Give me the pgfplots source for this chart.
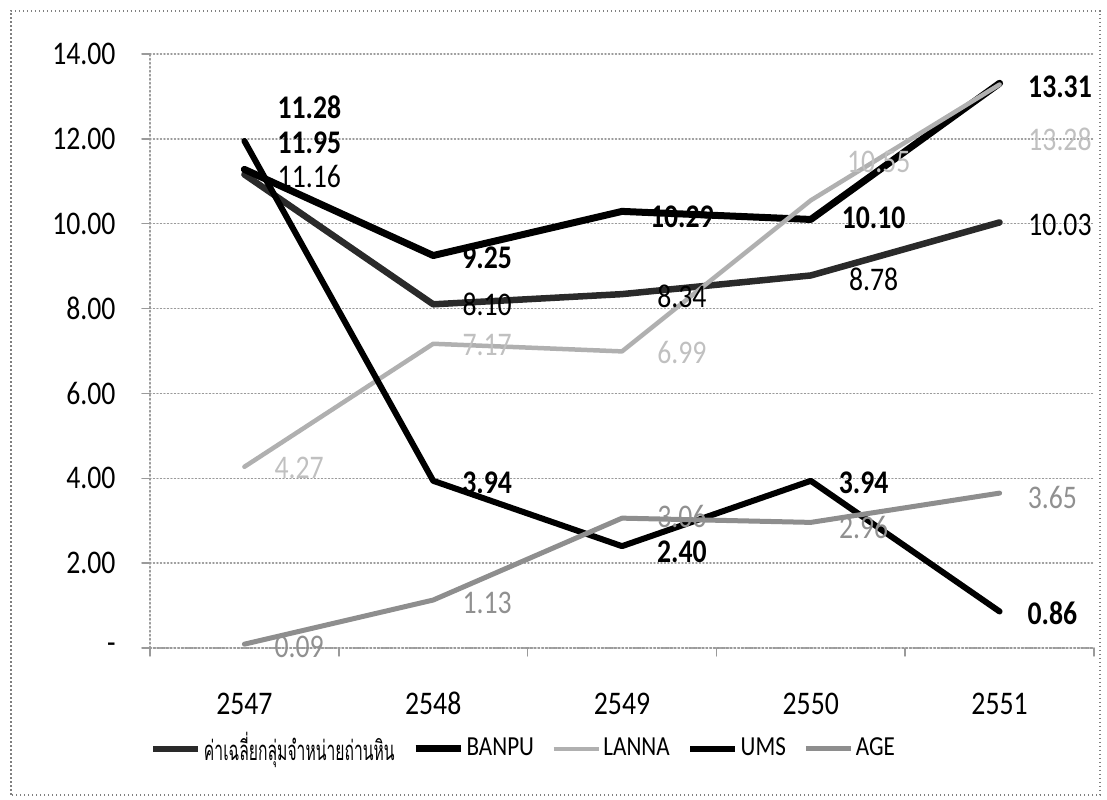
\documentclass[border=0pt]{standalone}
\usepackage{fontspec}
\setmainfont{Carlito}[FakeStretch=0.84]
\newfontfamily\thaifont[Script=Thai,FakeStretch=0.57]{Loma}
\usepackage{pgfplots}
\pgfplotsset{compat=1.18}
\definecolor{avgc}{HTML}{2A2A2A}
\definecolor{lannac}{HTML}{B0B0B0}
\definecolor{agec}{HTML}{8E8E8E}
\definecolor{lannat}{HTML}{C0C0C0}
\definecolor{aget}{HTML}{909090}
\definecolor{gridc}{HTML}{9A9A9A}

\pgfplotstableread{
x y
0 11.16
1 8.10
2 8.34
3 8.78
4 10.03
}\avgdata
\pgfplotstableread{
x y
0 11.28
1 9.25
2 10.29
3 10.10
4 13.31
}\banpudata
\pgfplotstableread{
x y
0 4.27
1 7.17
2 6.99
3 10.55
4 13.28
}\lannadata
\pgfplotstableread{
x y
0 11.95
1 3.94
2 2.40
3 3.94
4 0.86
}\umsdata
\pgfplotstableread{
x y
0 0.09
1 1.13
2 3.06
3 2.96
4 3.65
}\agedata

\begin{document}
\begin{tikzpicture}
\fontsize{13.2pt}{15pt}\selectfont
\begin{axis}[
  at={(60pt,60.8pt)}, anchor=south west,
  scale only axis, width=377.6pt, height=237.6pt,
  xmin=-0.5, xmax=4.5, ymin=0, ymax=14,
  clip=false,
  axis x line*=bottom, axis y line*=left,
  axis line style={gridc, densely dotted, line width=0.6pt},
  xtick={0,1,2,3,4},
  xticklabels={2547,2548,2549,2550,2551},
  major x tick style={draw=none},
  minor xtick={-0.5,0.5,1.5,2.5,3.5,4.5},
  minor tick length=3.2pt,
  minor x tick style={gridc, line width=0.6pt},
  ytick={0,2,...,14},
  yticklabels={-\hspace{12pt},2.00,4.00,6.00,8.00,10.00,12.00,14.00},
  major tick length=3.2pt,
  tick align=outside,
  y tick style={gridc, line width=0.6pt},
  ymajorgrids,
  grid style={gridc, densely dotted, line width=0.6pt},
  xticklabel style={anchor=north, yshift=-10pt, text height=9pt, text depth=0pt, font=\fontsize{13.2pt}{15pt}\selectfont},
  yticklabel style={anchor=east, xshift=-6pt, font=\fontsize{13.2pt}{15pt}\selectfont},
  legend columns=5,
  legend style={at={(0.0,-0.17)}, anchor=west, draw=none, fill=none,
    inner sep=0pt, outer sep=0pt,
    font=\fontsize{11pt}{13pt}\selectfont,
    nodes={inner sep=1pt},
    /tikz/every even column/.append style={column sep=6pt}},
  legend image code/.code={\draw[#1] (0pt,0pt) -- (18pt,0pt);},
  line join=round, line cap=round,
]
\addplot[avgc, line width=2.6pt] table {\avgdata};
\addlegendentry{\thaifont ค่าเฉลี่ยกลุ่มจำหน่ายถ่านหิน}
\addplot[black, line width=2.8pt] table {\banpudata};
\addlegendentry{BANPU}
\addplot[lannac, line width=1.8pt] table {\lannadata};
\addlegendentry{LANNA}
\addplot[black, line width=2.4pt] table {\umsdata};
\addlegendentry{UMS}
\addplot[agec, line width=2pt] table {\agedata};
\addlegendentry{AGE}

% data labels
\addplot[forget plot, draw=none, nodes near coords, point meta=explicit symbolic,
  nodes near coords style={anchor=center, inner sep=0pt, text=black, font=\fontsize{13.2pt}{15pt}\selectfont}]
  table[meta=label] {
x y label
0.344 11.11 11.16
1.286 8.09 8.10
2.317 8.28 8.34
3.333 8.68 8.78
4.32 9.98 10.03
};
\addplot[forget plot, draw=none, nodes near coords, point meta=explicit symbolic,
  nodes near coords style={anchor=center, inner sep=0pt, text=black, font=\fontsize{13.2pt}{15pt}\selectfont\bfseries}]
  table[meta=label] {
x y label
0.344 12.74 11.28
1.286 9.20 9.25
2.317 10.17 10.29
3.333 10.14 10.10
4.32 13.23 13.31
0.344 11.91 11.95
1.286 3.89 3.94
2.317 2.26 2.40
3.28 3.89 3.94
4.28 0.83 0.86
};
\addplot[forget plot, draw=none, nodes near coords, point meta=explicit symbolic,
  nodes near coords style={anchor=center, inner sep=0pt, text=lannat, font=\fontsize{13.2pt}{15pt}\selectfont}]
  table[meta=label] {
x y label
0.29 4.25 4.27
1.286 7.15 7.17
2.317 6.96 6.99
3.36 11.46 10.55
4.32 11.98 13.28
};
\addplot[forget plot, draw=none, nodes near coords, point meta=explicit symbolic,
  nodes near coords style={anchor=center, inner sep=0pt, text=aget, font=\fontsize{13.2pt}{15pt}\selectfont}]
  table[meta=label] {
x y label
0.29 0.02 0.09
1.286 1.06 1.13
2.317 3.09 3.06
3.28 2.85 2.96
4.28 3.54 3.65
};
\end{axis}
\draw[gray, densely dotted, line width=0.6pt] (4.4pt,2pt) rectangle (440pt,315.6pt);
\pgfresetboundingbox
\useasboundingbox (0pt,0pt) rectangle (442.8pt,320pt);
\end{tikzpicture}
\end{document}
